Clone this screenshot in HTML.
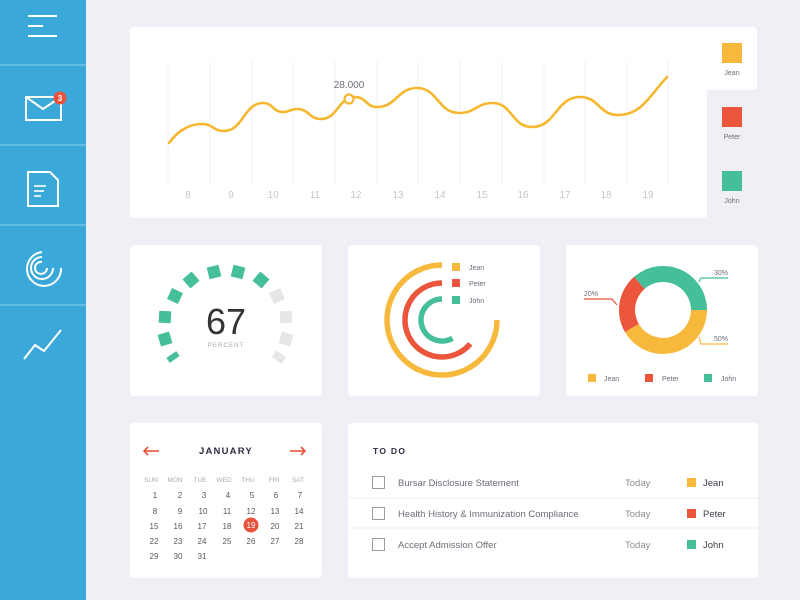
<!DOCTYPE html>
<html><head><meta charset="utf-8"><style>
html,body{margin:0;padding:0;width:800px;height:600px;overflow:hidden;background:#eff0f5;}
svg text{font-family:"Liberation Sans",sans-serif;}
</style></head><body>
<svg width="800" height="600" viewBox="0 0 800 600" xmlns="http://www.w3.org/2000/svg">
<rect width="800" height="600" fill="#eff0f5"/>
<!-- sidebar -->
<rect x="0" y="0" width="86" height="600" fill="#3aa9d9"/>
<g stroke="#7cc8ea" stroke-width="1.2"><line x1="0" y1="65" x2="86" y2="65"/><line x1="0" y1="145" x2="86" y2="145"/><line x1="0" y1="225" x2="86" y2="225"/><line x1="0" y1="305" x2="86" y2="305"/></g>
<g stroke="#fff" stroke-width="2" fill="none">
<line x1="28" y1="16" x2="57" y2="16"/><line x1="28" y1="26" x2="43" y2="26"/><line x1="28" y1="36" x2="57" y2="36"/>
<rect x="26" y="97" width="35" height="23"/><polyline points="26,97 43,109 55,101"/>
<path d="M28,172 H50 L58,180 V206 H28 Z"/><line x1="34" y1="186" x2="46" y2="186" stroke-width="1.6"/><line x1="34" y1="191" x2="44" y2="191" stroke-width="1.6"/><line x1="34" y1="196" x2="41" y2="196" stroke-width="1.6"/>
<path d="M42,252 A17,17 0 1 0 61,268"/><path d="M42,257 A11,11 0 1 0 53,268"/><path d="M42,262 A6,6 0 1 0 47,268"/>
<polyline points="24,359 35,345 44,351 61,330"/>
</g>
<circle cx="60" cy="98" r="6.5" fill="#e9523b"/><text x="60" y="101" font-size="8" font-weight="bold" fill="#fff" text-anchor="middle">3</text>

<!-- main line chart card -->
<rect x="130" y="27" width="577" height="191" rx="4" fill="#fff"/>
<rect x="700" y="27" width="57" height="63" rx="4" fill="#fff"/>
<g stroke="#f1f1f4" stroke-width="1">
<line x1="168" y1="61" x2="168" y2="184"/><line x1="210" y1="61" x2="210" y2="184"/><line x1="252" y1="61" x2="252" y2="184"/><line x1="293" y1="61" x2="293" y2="184"/><line x1="335" y1="61" x2="335" y2="184"/><line x1="377" y1="61" x2="377" y2="184"/><line x1="418" y1="61" x2="418" y2="184"/><line x1="460" y1="61" x2="460" y2="184"/><line x1="502" y1="61" x2="502" y2="184"/><line x1="544" y1="61" x2="544" y2="184"/><line x1="585" y1="61" x2="585" y2="184"/><line x1="627" y1="61" x2="627" y2="184"/><line x1="668" y1="61" x2="668" y2="184"/>
</g>
<g font-size="10" fill="#c4c6cc" text-anchor="middle">
<text x="188" y="198">8</text><text x="231" y="198">9</text><text x="273" y="198">10</text><text x="315" y="198">11</text><text x="356" y="198">12</text><text x="398" y="198">13</text><text x="440" y="198">14</text><text x="482" y="198">15</text><text x="523" y="198">16</text><text x="565" y="198">17</text><text x="606" y="198">18</text><text x="648" y="198">19</text>
</g>
<path d="M169,143 C175,135 185,124 202,124 C213,124 213,131 224,131 C243,131 244,103 263,103 C273,103 273,112 283,112 C290,112 290,109 297,109 C309,109 309,119 321,119 C338,119 338,97 355,97 C366,97 366,107 377,107 C397,107 397,88 417,88 C438,88 438,113 459,113 C476,113 476,103 493,103 C512,103 512,127 532,127 C556,127 556,97 580,97 C599,97 599,115 618,115 C642,115 650,95 667,77" fill="none" stroke="#f6b72f" stroke-width="2.6" stroke-linecap="round"/>
<circle cx="349" cy="99" r="4.5" fill="#fff" stroke="#f6b72f" stroke-width="2.2"/>
<text x="349" y="88" font-size="10" fill="#6b6d78" text-anchor="middle">28.000</text>
<rect x="722" y="43" width="20" height="20" fill="#f6b93b"/><text x="732" y="75" font-size="7" fill="#6b6d78" text-anchor="middle">Jean</text>
<rect x="722" y="107" width="20" height="20" fill="#ea553b"/><text x="732" y="139" font-size="7" fill="#6b6d78" text-anchor="middle">Peter</text>
<rect x="722" y="171" width="20" height="20" fill="#45be9a"/><text x="732" y="203" font-size="7" fill="#6b6d78" text-anchor="middle">John</text>

<!-- row 2 cards -->
<rect x="130" y="245" width="192" height="151" rx="4" fill="#fff"/>
<rect x="348" y="245" width="192" height="151" rx="4" fill="#fff"/>
<rect x="566" y="245" width="192" height="151" rx="4" fill="#fff"/>
<!-- gauge -->
<g fill="#45be9a">
<rect x="-6" y="-3" width="12" height="6" transform="translate(173,357) rotate(-35)"/>
<rect x="-6" y="-6" width="12" height="12" transform="translate(165,339) rotate(-17)"/>
<rect x="-6" y="-6" width="12" height="12" transform="translate(165,317) rotate(3)"/>
<rect x="-6" y="-6" width="12" height="12" transform="translate(175,296) rotate(25)"/>
<rect x="-6" y="-6" width="12" height="12" transform="translate(191,280) rotate(49)"/>
<rect x="-6" y="-6" width="12" height="12" transform="translate(214,272) rotate(76)"/>
<rect x="-6" y="-6" width="12" height="12" transform="translate(238,272) rotate(104)"/>
<rect x="-6" y="-6" width="12" height="12" transform="translate(261,280) rotate(131)"/>
</g>
<g fill="#e6e6e8">
<rect x="-6" y="-6" width="12" height="12" transform="translate(277,296) rotate(155)"/>
<rect x="-6" y="-6" width="12" height="12" transform="translate(286,317) rotate(177)"/>
<rect x="-6" y="-6" width="12" height="12" transform="translate(286,339) rotate(197)"/>
<rect x="-6" y="-4" width="12" height="8" transform="translate(279,357) rotate(215)"/>
</g>
<text x="226" y="334" font-size="36" fill="#333" text-anchor="middle">67</text>
<text x="226" y="347" font-size="6.5" fill="#a9abb2" text-anchor="middle" letter-spacing="0.8">PERCENT</text>
<!-- radial -->
<g fill="none" stroke-width="5.5">
<path d="M442,265 A55,55 0 1 0 497,320" stroke="#f6b93b"/>
<path d="M442,283 A37,37 0 1 0 470.3,343.8" stroke="#ea553b"/>
<path d="M442,299 A21,21 0 1 0 452.5,338.2" stroke="#45be9a"/>
</g>
<rect x="452" y="263" width="8" height="8" fill="#f6b93b"/><text x="469" y="270" font-size="7" fill="#6b6d78">Jean</text>
<rect x="452" y="279" width="8" height="8" fill="#ea553b"/><text x="469" y="286" font-size="7" fill="#6b6d78">Peter</text>
<rect x="452" y="296" width="8" height="8" fill="#45be9a"/><text x="469" y="303" font-size="7" fill="#6b6d78">John</text>
<!-- donut -->
<path d="M707,310 A44,44 0 0 1 624.9,332 L638.8,324 A28,28 0 0 0 691,310 Z" fill="#f6b93b"/>
<path d="M624.9,332 A44,44 0 0 1 634.1,276.8 L644.6,288.9 A28,28 0 0 0 638.8,324 Z" fill="#ea553b"/>
<path d="M634.1,276.8 A44,44 0 0 1 707,310 L691,310 A28,28 0 0 0 644.6,288.9 Z" fill="#45be9a"/>
<g fill="none" stroke-width="1.2">
<polyline points="699,282 701,278 728,278" stroke="#45be9a"/>
<polyline points="617,305 612,299 584,299" stroke="#ea553b"/>
<polyline points="699,337 701,344 728,344" stroke="#f6b93b"/>
</g>
<g font-size="7" fill="#6b6d78">
<text x="714" y="275">30%</text><text x="584" y="296">20%</text><text x="714" y="341">50%</text>
</g>
<rect x="588" y="374" width="8" height="8" fill="#f6b93b"/><text x="604" y="381" font-size="7" fill="#6b6d78">Jean</text>
<rect x="645" y="374" width="8" height="8" fill="#ea553b"/><text x="662" y="381" font-size="7" fill="#6b6d78">Peter</text>
<rect x="704" y="374" width="8" height="8" fill="#45be9a"/><text x="721" y="381" font-size="7" fill="#6b6d78">John</text>

<!-- calendar -->
<rect x="130" y="423" width="192" height="155" rx="4" fill="#fff"/>
<g stroke="#e9523b" stroke-width="1.6" fill="none">
<line x1="144" y1="451" x2="159" y2="451"/><polyline points="148,447 144,451 148,455"/>
<line x1="290" y1="451" x2="305" y2="451"/><polyline points="301,447 305,451 301,455"/>
</g>
<text x="226" y="454" font-size="9.5" font-weight="bold" fill="#2b2d42" text-anchor="middle" letter-spacing="1.2">JANUARY</text>
<g font-size="6.5" fill="#a9abb2" text-anchor="middle">
<text x="151" y="482">SUN</text><text x="175" y="482">MON</text><text x="200" y="482">TUE</text><text x="224" y="482">WED</text><text x="248" y="482">THU</text><text x="274" y="482">FRI</text><text x="298" y="482">SAT</text>
</g>
<circle cx="251" cy="525" r="7.5" fill="#e9523b"/>
<g font-size="8" fill="#55575f" text-anchor="middle">
<text x="155" y="498">1</text><text x="180" y="498">2</text><text x="204" y="498">3</text><text x="228" y="498">4</text><text x="252" y="498">5</text><text x="276" y="498">6</text><text x="300" y="498">7</text>
<text x="155" y="514">8</text><text x="180" y="514">9</text><text x="203" y="514">10</text><text x="227" y="514">11</text><text x="251" y="514">12</text><text x="275" y="514">13</text><text x="299" y="514">14</text>
<text x="154" y="529">15</text><text x="178" y="529">16</text><text x="202" y="529">17</text><text x="227" y="529">18</text><text x="251" y="528" fill="#fff">19</text><text x="275" y="529">20</text><text x="299" y="529">21</text>
<text x="154" y="544">22</text><text x="178" y="544">23</text><text x="202" y="544">24</text><text x="227" y="544">25</text><text x="251" y="544">26</text><text x="275" y="544">27</text><text x="299" y="544">28</text>
<text x="154" y="559">29</text><text x="178" y="559">30</text><text x="202" y="559">31</text>
</g>

<!-- todo -->
<rect x="348" y="423" width="410" height="155" rx="4" fill="#fff"/>
<text x="373" y="454" font-size="8.5" font-weight="bold" fill="#2b2d42" letter-spacing="1.3">TO DO</text>
<g stroke="#eceef2" stroke-width="1"><line x1="349" y1="498" x2="758" y2="498"/><line x1="349" y1="528" x2="758" y2="528"/></g>
<g fill="none" stroke="#9a9ca3" stroke-width="1"><rect x="372.5" y="476.5" width="12" height="12"/><rect x="372.5" y="507.5" width="12" height="12"/><rect x="372.5" y="538.5" width="12" height="12"/></g>
<g font-size="9.5" fill="#6b6d78">
<text x="398" y="486">Bursar Disclosure Statement</text>
<text x="398" y="517">Health History &amp; Immunization Compliance</text>
<text x="398" y="548">Accept Admission Offer</text>
<text x="625" y="486" fill="#8a8c93">Today</text><text x="625" y="517" fill="#8a8c93">Today</text><text x="625" y="548" fill="#8a8c93">Today</text>
</g>
<rect x="687" y="478" width="9" height="9" fill="#f6b93b"/><rect x="687" y="509" width="9" height="9" fill="#ea553b"/><rect x="687" y="540" width="9" height="9" fill="#45be9a"/>
<g font-size="9.5" fill="#3b3d48">
<text x="703" y="486">Jean</text><text x="703" y="517">Peter</text><text x="703" y="548">John</text>
</g>
</svg>
</body></html>
